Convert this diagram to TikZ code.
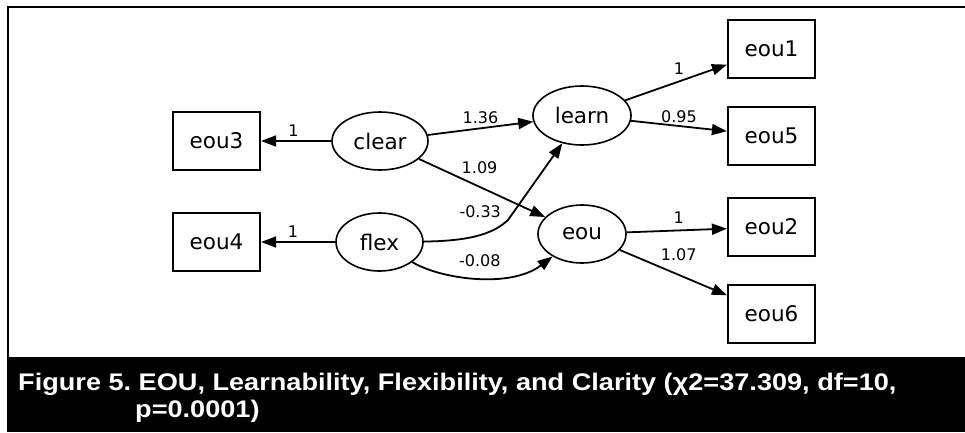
\documentclass[tikz,border=0pt]{standalone}
\usepackage{fontspec}
\usepackage{graphicx}
\setmainfont{DejaVu Sans}
\newfontfamily\capfont{Liberation Sans}
\usetikzlibrary{shapes.geometric,arrows.meta}
\frenchspacing
\tikzset{
  latent/.style={ellipse, draw, line width=1.6pt, inner sep=0pt,
    minimum height=58pt, font=\fontsize{21.5}{24}\selectfont},
  observed/.style={rectangle, draw, line width=2.2pt, inner sep=0pt,
    minimum width=87pt, minimum height=58pt, font=\fontsize{21.5}{24}\selectfont},
  regr/.style={line width=1.8pt, -{Triangle[length=15pt,width=11pt]}},
  coef/.style={font=\fontsize{16}{18}\selectfont, inner sep=0pt},
  captext/.style={anchor=base west, inner sep=0pt, text=white,
    font=\capfont\bfseries\fontsize{24}{26}\selectfont},
}
\begin{document}
\begin{tikzpicture}[x=1pt, y=-1pt]
\useasboundingbox (0,0) rectangle (965,432);

% frame and caption band
\draw[line width=2.4pt] (8,357) |- (965,7);
\fill[black] (7,357) rectangle (965,432);

% observed indicators
\node[observed] (eou3) at (216.5,141) {eou3};
\node[observed] (eou4) at (216.5,242) {eou4};
\node[observed] (eou1) at (771.5,49) {eou1};
\node[observed] (eou5) at (771.5,136) {eou5};
\node[observed] (eou2) at (771.5,227) {eou2};
\node[observed] (eou6) at (771.5,314) {eou6};

% latent factors
\node[latent, minimum width=96pt] (clear) at (380,141) {clear};
\node[latent, minimum width=87pt] (flex) at (379.5,242) {flex};
\node[latent, minimum width=98pt, minimum height=59pt] (learn) at (582,115.5) {learn};
\node[latent, minimum width=88pt] (eou) at (582,234) {eou};

% loadings and paths
\draw[regr] (clear) -- node[coef, pos=0.54, yshift=10pt] {1} (eou3);
\draw[regr] (flex) -- node[coef, pos=0.57, yshift=10pt] {1} (eou4);
\draw[regr] (clear) -- node[coef, pos=0.5, yshift=11pt] {1.36} (learn);
\draw[regr] (clear) -- node[coef, pos=0.48, yshift=19pt] {1.09} (eou);
\draw[regr] (flex) .. controls (475,241) and (495,232) ..
  node[coef, pos=0.5, yshift=23pt] {-0.33} (508,220) -- (learn);
\draw[regr] (flex) .. controls (440,279) and (510,289) ..
  node[coef, pos=0.5, yshift=17pt, xshift=3pt] {-0.08} (eou);
\draw[regr] (learn) -- node[coef, pos=0.53, yshift=13pt] {1} (eou1);
\draw[regr] (learn) -- node[coef, pos=0.5, yshift=9pt] {0.95} (eou5);
\draw[regr] (eou) -- node[coef, pos=0.52, yshift=13pt] {1} (eou2);
\draw[regr] (eou) -- node[coef, pos=0.55, yshift=20pt] {1.07} (eou6);

% caption
\node[captext] (cap1) at (18,390)
  {\scalebox{1.13}[1]{Figure 5. EOU, Learnability, Flexibility, and Clarity (χ2=37.309, df=10,}};
\node[captext] (cap2) at (135,417) {\scalebox{1.13}[1]{p=0.0001)}};
\end{tikzpicture}
\end{document}
